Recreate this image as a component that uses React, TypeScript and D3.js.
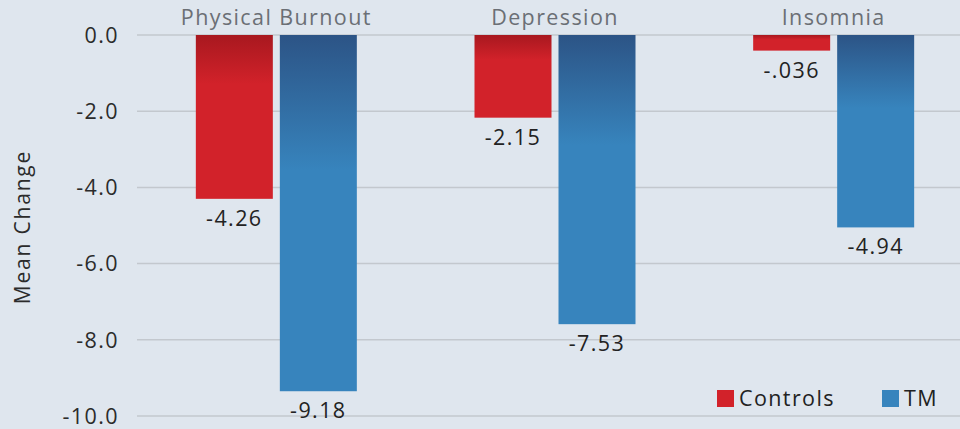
import React from "react";
import * as d3 from "d3";

const categories = ["Physical Burnout", "Depression", "Insomnia"];
const seriesNames = ["Controls", "TM"];
const controlsValues = [-4.3, -2.17, -0.41];
const tmValues = [-9.35, -7.59, -5.05];
const controlsLabels = ["-4.26", "-2.15", "-.036"];
const tmLabels = ["-9.18", "-7.53", "-4.94"];
const yTicks = [0, -2, -4, -6, -8, -10];

const W = 960;
const H = 429;
const FONT = "'Open Sans', sans-serif";
const BG = "#dfe6ee";
const LS = 1.4;

export default function App() {
  const y = d3.scaleLinear().domain([0, -10]).range([35, 416]);
  const x = d3.scaleBand<string>().domain(categories).range([137, 973]).padding(0);
  const barW = 77;
  const gap = 7;
  const fmt = (v: number) => d3.format(".1f")(v).replace("\u2212", "-");

  const series = [
    { name: seriesNames[0], values: controlsValues, labels: controlsLabels, grad: "gRed", solid: "#d2222a", offset: -1 },
    { name: seriesNames[1], values: tmValues, labels: tmLabels, grad: "gBlue", solid: "#3784bd", offset: 0 },
  ];

  return (
    <div style={{ position: "fixed", left: 0, top: 0, width: W, height: H, background: BG }}>
      <svg width={W} height={H} style={{ display: "block" }}>
        <defs>
          <linearGradient id="gRed" x1="0" y1="0" x2="0" y2="1">
            <stop offset="0" stopColor="#a8181f" />
            <stop offset="0.3" stopColor="#d2222a" />
            <stop offset="1" stopColor="#d2222a" />
          </linearGradient>
          <linearGradient id="gBlue" x1="0" y1="0" x2="0" y2="1">
            <stop offset="0" stopColor="#2c5486" />
            <stop offset="0.38" stopColor="#3784bd" />
            <stop offset="1" stopColor="#3784bd" />
          </linearGradient>
        </defs>
        <rect width={W} height={H} fill={BG} />
        {yTicks.map((t) => (
          <g key={t}>
            <line x1={137} x2={W} y1={y(t)} y2={y(t)} stroke="#c3c8ce" strokeWidth={1.5} />
            <text x={119} y={y(t)} dy="0.36em" textAnchor="end" fontFamily={FONT} fontSize={21.5} letterSpacing={LS} fill="#2b2b2b">
              {t === 0 ? "0.0" : fmt(t)}
            </text>
          </g>
        ))}
        <text
          transform={`translate(30,227) rotate(-90)`}
          textAnchor="middle"
          fontFamily={FONT}
          fontSize={21}
          letterSpacing={1.8}
          fill="#2b2b2b"
        >
          Mean Change
        </text>
        {categories.map((c, i) => {
          const cx = (x(c) as number) + x.bandwidth() / 2;
          return (
            <g key={c}>
              <text x={cx} y={25} textAnchor="middle" fontFamily={FONT} fontSize={21.5} letterSpacing={LS} fill="#6b6f75">
                {c}
              </text>
              {series.map((s) => {
                const bx = s.offset < 0 ? cx - gap / 2 - barW : cx + gap / 2;
                const top = y(0);
                const bottom = y(s.values[i]);
                return (
                  <g key={s.name}>
                    <rect x={bx} y={top} width={barW} height={bottom - top} fill={`url(#${s.grad})`} />
                    <text
                      x={bx + barW / 2}
                      y={bottom + 27}
                      textAnchor="middle"
                      fontFamily={FONT}
                      fontSize={21.5}
                      letterSpacing={LS}
                      fill="#222"
                    >
                      {s.labels[i]}
                    </text>
                  </g>
                );
              })}
            </g>
          );
        })}
        {series.map((s, j) => {
          const lx = j === 0 ? 717 : 882;
          return (
            <g key={s.name}>
              <rect x={lx} y={390} width={17} height={17} fill={s.solid} />
              <text x={lx + 22} y={406} fontFamily={FONT} fontSize={21.5} letterSpacing={LS} fill="#222">
                {s.name}
              </text>
            </g>
          );
        })}
      </svg>
    </div>
  );
}
